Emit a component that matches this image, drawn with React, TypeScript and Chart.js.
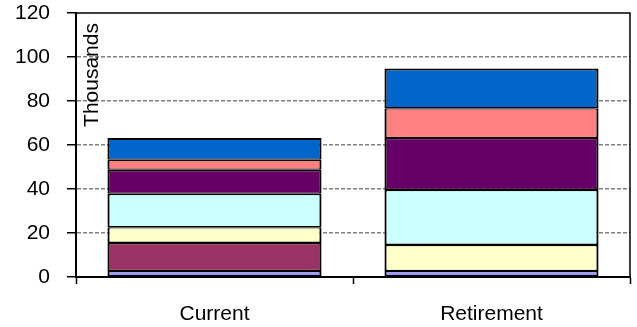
import React, { useEffect, useRef } from "react";
import { Chart, registerables } from "chart.js";

Chart.register(...registerables);

const categories = ["Current", "Retirement"];
const seriesNames = ["Series 1", "Series 2", "Series 3", "Series 4", "Series 5", "Series 6", "Series 7"];
const series1 = [2.7, 2.7];
const series2 = [12.8, 0];
const series3 = [7.1, 11.9];
const series4 = [15.2, 25.0];
const series5 = [10.9, 23.6];
const series6 = [4.6, 13.5];
const series7 = [9.9, 18.1];
const seriesColors = ["#9999FF", "#993366", "#FFFFCC", "#CCFFFF", "#660066", "#FF8080", "#0066CC"];
const yTicks = [0, 20, 40, 60, 80, 100, 120];
const yAxisTitle = "Thousands";

const FONT = "'Liberation Sans', Arial, sans-serif";

export default function App() {
  const ref = useRef<HTMLCanvasElement | null>(null);
  useEffect(() => {
    document.body.style.margin = "0";
    const canvas = ref.current;
    if (!canvas) return;
    const allSeries = [series1, series2, series3, series4, series5, series6, series7];
    const last = allSeries.length - 1;
    const boxPlugin = {
      id: "boxAndTitle",
      afterDraw(chart: any) {
        const { ctx, chartArea } = chart;
        ctx.save();
        ctx.strokeStyle = "#000";
        ctx.lineWidth = 1.5;
        ctx.beginPath();
        ctx.moveTo(chartArea.left, chartArea.top);
        ctx.lineTo(chartArea.right, chartArea.top);
        ctx.lineTo(chartArea.right, chartArea.bottom);
        ctx.stroke();
        ctx.fillStyle = "#000";
        ctx.font = `21px ${FONT}`;
        ctx.translate(chartArea.left + 16, chartArea.top + 62);
        ctx.rotate(-Math.PI / 2);
        ctx.textAlign = "center";
        ctx.textBaseline = "middle";
        ctx.fillText(yAxisTitle, 0, 0);
        ctx.restore();
      },
    };
    const chart = new Chart(canvas, {
      type: "bar",
      data: {
        labels: categories,
        datasets: allSeries.map((d, i) => ({
          label: seriesNames[i],
          data: d,
          backgroundColor: seriesColors[i],
          borderColor: "#000",
          borderWidth: { top: i === last ? 2 : 1.3, bottom: 1.3, left: 2.2, right: 2.2 },
          borderSkipped: false,
          categoryPercentage: 1,
          barPercentage: 0.773,
        })),
      },
      options: {
        animation: false,
        responsive: false,
        maintainAspectRatio: false,
        layout: { padding: { top: 13, right: 7, left: 0, bottom: 0 } },
        plugins: { legend: { display: false }, tooltip: { enabled: false } },
        scales: {
          x: {
            stacked: true,
            grid: {
              display: true,
              drawOnChartArea: false,
              drawTicks: true,
              tickLength: 7,
              tickColor: "#000",
              tickWidth: 1.5,
              offset: true,
            },
            border: { display: true, color: "#000", width: 2 },
            ticks: {
              color: "#000",
              font: { family: FONT, size: 21 },
              padding: 18,
            },
            afterFit(scale: any) {
              scale.height = 50;
              scale.paddingLeft = 0;
              scale.paddingRight = 0;
            },
          },
          y: {
            stacked: true,
            min: 0,
            max: 120,
            afterBuildTicks(scale: any) {
              scale.ticks = yTicks.map((v) => ({ value: v }));
            },
            grid: {
              color: (ctx: any) =>
                ctx.tick && (ctx.tick.value === 120 || ctx.tick.value === 0) ? "rgba(0,0,0,0)" : "#808080",
              lineWidth: 1.5,
              drawTicks: true,
              tickLength: 9,
              tickColor: "#000",
              tickWidth: 1.5,
              tickBorderDash: [],
            },
            border: { display: true, color: "#000", width: 2, dash: [4, 2] },
            ticks: {
              color: "#000",
              font: { family: FONT, size: 21 },
              padding: 17,
            },
            afterFit(scale: any) {
              scale.width = 76;
              scale.paddingTop = 0;
              scale.paddingBottom = 0;
            },
          },
        },
      },
      plugins: [boxPlugin],
    } as any);
    return () => chart.destroy();
  }, []);
  return (
    <div style={{ width: 637, height: 327 }}>
      <canvas ref={ref} width={637} height={327} style={{ display: "block" }} />
    </div>
  );
}
